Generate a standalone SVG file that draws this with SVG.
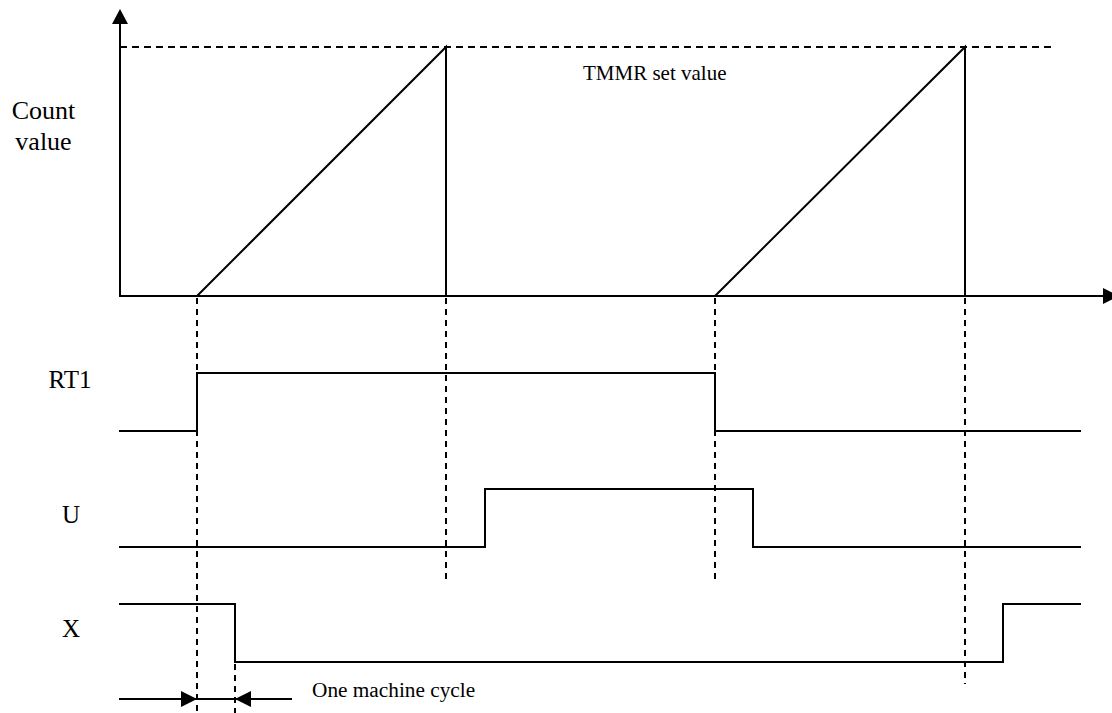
<svg xmlns="http://www.w3.org/2000/svg" width="1112" height="713" viewBox="0 0 1112 713">
<style>
.ln{fill:none;stroke:#000;stroke-width:2}
.ds{fill:none;stroke:#000;stroke-width:2;stroke-dasharray:7,5}
.vd{fill:none;stroke:#000;stroke-width:2;stroke-dasharray:6,5}
.ah{fill:#000;stroke:none}
.lb{font-family:"Liberation Serif","Times New Roman",serif;fill:#000}
</style>
<rect width="1112" height="713" fill="#fff"/>
<g id="axes">
<line class="ln" x1="120" y1="20" x2="120" y2="296"/>
<polygon class="ah" points="120,9 112,24 128,24"/>
<line class="ln" x1="119" y1="296" x2="1105" y2="296"/>
<polygon class="ah" points="1119,296 1103,288 1103,304"/>
<line class="ds" x1="120" y1="47" x2="1056" y2="47"/>
</g>
<g id="count-curve">
<polyline class="ln" points="197,296 446,47 446,296"/>
<polyline class="ln" points="715,296 965,47 965,296"/>
</g>
<g id="guides">
<line class="vd" x1="197" y1="298" x2="197" y2="713"/>
<line class="vd" x1="446" y1="298" x2="446" y2="583"/>
<line class="vd" x1="715" y1="298" x2="715" y2="583"/>
<line class="vd" x1="965" y1="298" x2="965" y2="684"/>
<line class="vd" x1="235" y1="664" x2="235" y2="713"/>
</g>
<g id="rt1">
<polyline class="ln" points="119,431 197,431 197,373 715,373 715,431 1081,431"/>
</g>
<g id="u">
<polyline class="ln" points="119,547 485,547 485,489 753,489 753,547 1081,547"/>
</g>
<g id="x">
<polyline class="ln" points="119,604 235,604 235,662 1003,662 1003,604 1081,604"/>
</g>
<g id="cycle-marker">
<line class="ln" x1="119" y1="699" x2="292" y2="699"/>
<polygon class="ah" points="197,699 181,691 181,707"/>
<polygon class="ah" points="235,699 251,691 251,707"/>
</g>
<g id="labels">
<text class="lb" x="43.5" y="119" font-size="26" text-anchor="middle">Count</text>
<text class="lb" x="43.5" y="150" font-size="26" text-anchor="middle">value</text>
<text class="lb" x="583" y="80" font-size="21">TMMR set value</text>
<text class="lb" x="70" y="388" font-size="25" text-anchor="middle">RT1</text>
<text class="lb" x="71" y="523" font-size="25" text-anchor="middle">U</text>
<text class="lb" x="71" y="637" font-size="25" text-anchor="middle">X</text>
<text class="lb" x="312" y="697" font-size="21.3">One machine cycle</text>
</g>
</svg>
